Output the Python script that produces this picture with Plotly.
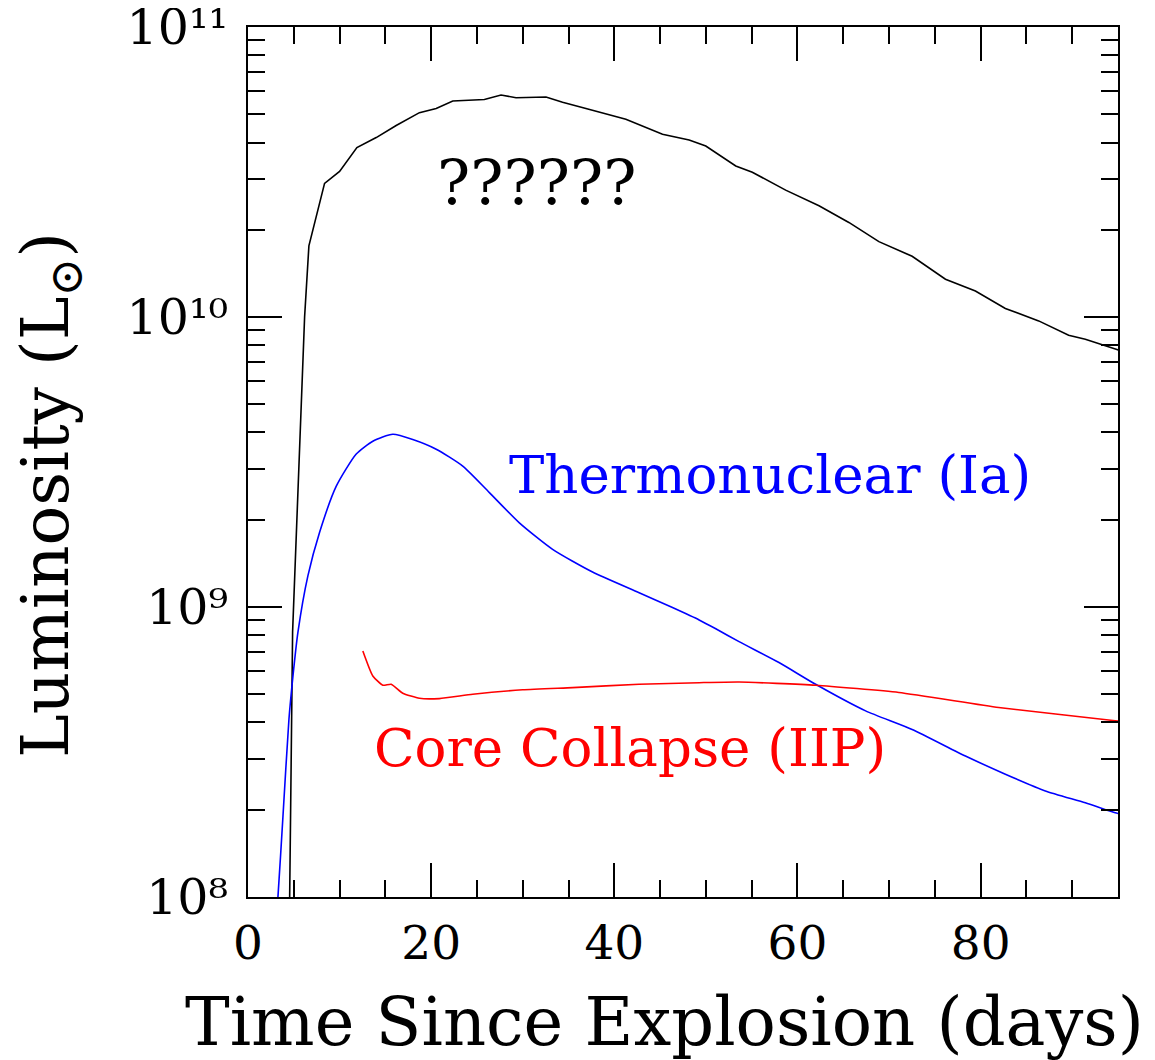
import plotly.graph_objects as go

# Black curve ("??????")
black_x = [4.3, 4.55, 4.87, 5.82, 6.18, 6.65, 8.36, 10.0, 11.89, 14.0, 16.18, 18.72, 20.55, 22.36,
           25.81, 27.63, 29.27, 32.54, 34.35, 36.9, 41.26, 45.26, 48.17, 49.99, 53.26, 55.07,
           58.71, 62.35, 65.61, 68.89, 72.52, 76.16, 79.43, 82.7, 86.34, 89.61, 91.43, 94.88, 95.5]
black_y = [5e7, 1.0e8, 8.19e8, 5.2e9, 1.0e10, 1.76e10, 2.89e10, 3.18e10, 3.84e10, 4.16e10, 4.58e10,
           5.07e10, 5.24e10, 5.56e10, 5.63e10, 5.83e10, 5.71e10, 5.74e10, 5.51e10, 5.24e10, 4.81e10,
           4.27e10, 4.08e10, 3.89e10, 3.32e10, 3.16e10, 2.74e10, 2.42e10, 2.12e10, 1.82e10, 1.62e10,
           1.35e10, 1.23e10, 1.07e10, 9.7e9, 8.65e9, 8.38e9, 7.73e9, 7.6e9]

# Blue curve: Thermonuclear (Ia)
blue_x = [3.0, 3.27, 3.82, 4.47, 4.91, 5.45, 6.54, 7.82, 9.64, 11.82, 13.63, 15.81, 17.99, 20.55,
          23.45, 26.36, 29.63, 33.26, 37.62, 42.71, 46.35, 49.26, 51.08, 53.62, 57.98, 61.98,
          67.44, 72.52, 78.34, 82.7, 87.07, 91.43, 94.7, 95.5]
blue_y = [8.0e7, 1.0e8, 1.90e8, 4.10e8, 5.78e8, 8.17e8, 1.28e9, 1.81e9, 2.61e9, 3.37e9, 3.73e9,
          3.94e9, 3.78e9, 3.50e9, 3.06e9, 2.48e9, 1.95e9, 1.58e9, 1.32e9, 1.12e9, 9.95e8, 9.02e8,
          8.41e8, 7.59e8, 6.43e8, 5.41e8, 4.38e8, 3.78e8, 3.06e8, 2.65e8, 2.32e8, 2.11e8, 1.95e8, 1.92e8]

# Red curve: Core Collapse (IIP)
red_x = [12.54, 13.63, 14.72, 15.64, 16.9, 18.72, 20.9, 24.54, 29.99, 35.44, 42.71, 49.26, 53.62,
         61.98, 71.07, 81.97, 94.7, 95.5]
red_y = [7.05e8, 5.78e8, 5.37e8, 5.41e8, 5.04e8, 4.84e8, 4.83e8, 5.0e8, 5.18e8, 5.27e8, 5.41e8,
         5.48e8, 5.51e8, 5.37e8, 5.07e8, 4.50e8, 4.05e8, 4.02e8]

x_tickvals = [0, 20, 40, 60, 80]
x_ticktext = ["0", "20", "40", "60", "80"]
y_tickvals = [1e8, 1e9, 1e10, 1e11]
y_ticktext = ["10⁸", "10⁹", "10¹⁰", "10¹¹"]

labels = ["??????", "Thermonuclear (Ia)", "Core Collapse (IIP)"]
label_x = [31.5, 57.0, 41.7]
label_y = [10.464, 9.458, 8.516]
label_colors = ["#000000", "#0000ff", "#ff0000"]
label_sizes = [62, 53, 53]

x_title = "Time Since Explosion (days)"
y_title = "Luminosity (L<sub>⊙</sub>)"

FONT = "DejaVu Serif"

fig = go.Figure()
fig.add_trace(go.Scatter(x=black_x, y=black_y, mode="lines", line=dict(color="#000000", width=1.6)))
fig.add_trace(go.Scatter(x=blue_x, y=blue_y, mode="lines",
                         line=dict(color="#0000ff", width=1.6, shape="spline", smoothing=0.6)))
fig.add_trace(go.Scatter(x=red_x, y=red_y, mode="lines",
                         line=dict(color="#ff0000", width=1.6, shape="spline", smoothing=0.5)))

for t, lx, ly, c, s in zip(labels, label_x, label_y, label_colors, label_sizes):
    fig.add_annotation(x=lx, y=ly, xref="x", yref="y", text=t, showarrow=False,
                       xanchor="center", yanchor="middle",
                       font=dict(family=FONT, size=s, color=c))

# axis titles placed as paper annotations
fig.add_annotation(x=0.479, y=-0.1437, xref="paper", yref="paper", text=x_title, showarrow=False,
                   xanchor="center", yanchor="middle", font=dict(family=FONT, size=67, color="#000"))
fig.add_annotation(x=-0.2276, y=0.462, xref="paper", yref="paper", text=y_title, showarrow=False,
                   textangle=-90, xanchor="center", yanchor="middle",
                   font=dict(family=FONT, size=66, color="#000"))

minor_y = [m * 10 ** e for e in (8, 9, 10) for m in range(2, 10)]

# page body has an 8px margin, so the figure is sized/offset to compensate
fig.update_layout(
    width=1147, height=1052,
    margin=dict(l=240, r=37, t=19, b=163, autoexpand=False),
    paper_bgcolor="white", plot_bgcolor="white",
    showlegend=False,
    font=dict(family=FONT, color="#000000"),
)
fig.update_xaxes(
    range=[0, 95], tickvals=x_tickvals, ticktext=x_ticktext, automargin=False,
    ticks="inside", ticklen=34, tickwidth=2, tickcolor="#000",
    minor=dict(ticks="inside", ticklen=17, tickwidth=2, tickcolor="#000", dtick=5, showgrid=False),
    showline=True, linecolor="#000", linewidth=2, mirror="ticks",
    showgrid=False, zeroline=False, ticklabelstandoff=4, ticklabeloverflow="allow",
    tickfont=dict(family=FONT, size=47, color="#000"),
)
fig.update_yaxes(
    type="log", range=[7.9995, 11.0005], tickvals=y_tickvals, ticktext=y_ticktext, automargin=False,
    ticks="inside", ticklen=34, tickwidth=2, tickcolor="#000",
    minor=dict(ticks="inside", ticklen=17, tickwidth=2, tickcolor="#000", tickvals=minor_y, showgrid=False),
    showline=True, linecolor="#000", linewidth=2, mirror="ticks",
    showgrid=False, zeroline=False, ticklabelstandoff=8, ticklabeloverflow="allow",
    tickfont=dict(family=FONT, size=49, color="#000"),
)

fig.write_html("out.html")
